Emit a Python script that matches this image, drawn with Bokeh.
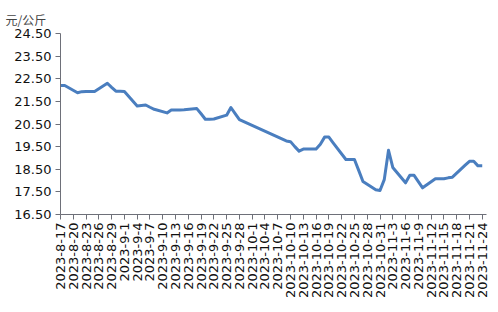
import pandas as pd
from bokeh.plotting import figure
from bokeh.models import Range1d, FixedTicker, Title
from bokeh.embed import file_html
from bokeh.resources import INLINE

# ---- data ----
start_date = "2023-08-17"
end_date = "2023-11-25"
unit_label = "元/公斤"

dates = [
    "2023-08-17", "2023-08-18", "2023-08-21", "2023-08-22", "2023-08-23", "2023-08-24", "2023-08-25",
    "2023-08-28", "2023-08-29", "2023-08-30", "2023-08-31", "2023-09-01",
    "2023-09-04", "2023-09-05", "2023-09-06", "2023-09-07", "2023-09-08",
    "2023-09-11", "2023-09-12", "2023-09-13", "2023-09-14", "2023-09-15",
    "2023-09-18", "2023-09-19", "2023-09-20", "2023-09-21", "2023-09-22",
    "2023-09-25", "2023-09-26", "2023-09-27", "2023-09-28",
    "2023-10-09", "2023-10-10", "2023-10-11", "2023-10-12", "2023-10-13",
    "2023-10-16", "2023-10-17", "2023-10-18", "2023-10-19", "2023-10-20",
    "2023-10-23", "2023-10-24", "2023-10-25", "2023-10-26", "2023-10-27",
    "2023-10-30", "2023-10-31", "2023-11-01", "2023-11-02", "2023-11-03",
    "2023-11-06", "2023-11-07", "2023-11-08", "2023-11-09", "2023-11-10",
    "2023-11-13", "2023-11-14", "2023-11-15", "2023-11-16", "2023-11-17",
    "2023-11-20", "2023-11-21", "2023-11-22", "2023-11-23", "2023-11-24",
]
prices = [
    22.20, 22.20, 21.88, 21.93, 21.94, 21.94, 21.94,
    22.30, 22.12, 21.95, 21.95, 21.94,
    21.30, 21.32, 21.34, 21.24, 21.15,
    20.99, 21.12, 21.12, 21.12, 21.13,
    21.18, 20.95, 20.71, 20.71, 20.72,
    20.89, 21.23, 20.96, 20.69,
    19.75, 19.72, 19.50, 19.30, 19.39,
    19.39, 19.60, 19.92, 19.92, 19.67,
    18.93, 18.93, 18.93, 18.45, 17.96,
    17.59, 17.56, 18.04, 19.34, 18.58,
    17.90, 18.23, 18.23, 17.95, 17.68,
    18.08, 18.08, 18.08, 18.12, 18.15,
    18.68, 18.85, 18.85, 18.65, 18.65,
]
y_ticks = [16.5, 17.5, 18.5, 19.5, 20.5, 21.5, 22.5, 23.5, 24.5]
label_step_days = 3

# ---- derived ----
t0 = pd.Timestamp(start_date)
all_days = pd.date_range(start_date, end_date, freq="D")
x = [(pd.Timestamp(d) - t0).days for d in dates]
tick_days = list(range(0, len(all_days) - 1, label_step_days))
tick_labels = {i: f"{all_days[i].year}-{all_days[i].month}-{all_days[i].day}" for i in tick_days}

p = figure(width=498, height=312, output_backend="svg", toolbar_location=None,
           x_range=Range1d(0, len(all_days) - 1), y_range=Range1d(y_ticks[0], y_ticks[-1]),
           min_border_left=60, min_border_right=12, min_border_top=33, min_border_bottom=98)
p.outline_line_color = None
p.xgrid.visible = False
p.ygrid.visible = False
p.background_fill_color = "white"
p.border_fill_color = "white"

p.line(x, prices, line_color="#4a7ebf", line_width=3, line_join="round")

axis_col = "#6E7079"
p.yaxis.ticker = FixedTicker(ticks=y_ticks)
p.yaxis.major_label_overrides = {v: f"{v:.2f}" for v in y_ticks}
p.yaxis.minor_tick_line_color = None
p.yaxis.axis_line_color = axis_col
p.yaxis.major_tick_line_color = axis_col
p.yaxis.major_tick_out = 5
p.yaxis.major_tick_in = 0
p.yaxis.major_label_text_font = "DejaVu Sans"
p.yaxis.major_label_text_font_size = "13px"
p.yaxis.major_label_text_color = "#111111"
p.yaxis.major_label_standoff = 4

p.xaxis.ticker = FixedTicker(ticks=tick_days)
p.xaxis.major_label_overrides = tick_labels
p.xaxis.minor_tick_line_color = None
p.xaxis.axis_line_color = axis_col
p.xaxis.major_tick_line_color = axis_col
p.xaxis.major_tick_out = 5
p.xaxis.major_tick_in = 0
p.xaxis.major_label_orientation = 1.5707963
p.xaxis.major_label_text_font = "DejaVu Sans"
p.xaxis.major_label_text_font_size = "13px"
p.xaxis.major_label_text_color = "#111111"
p.xaxis.major_label_standoff = 3

t = Title(text=unit_label, align="left", offset=-55, text_font="Noto Sans CJK SC",
          text_font_size="12px", text_font_style="normal", text_color="#444444", standoff=11)
p.add_layout(t, "above")

open("out.html", "w").write(file_html(p, INLINE))
